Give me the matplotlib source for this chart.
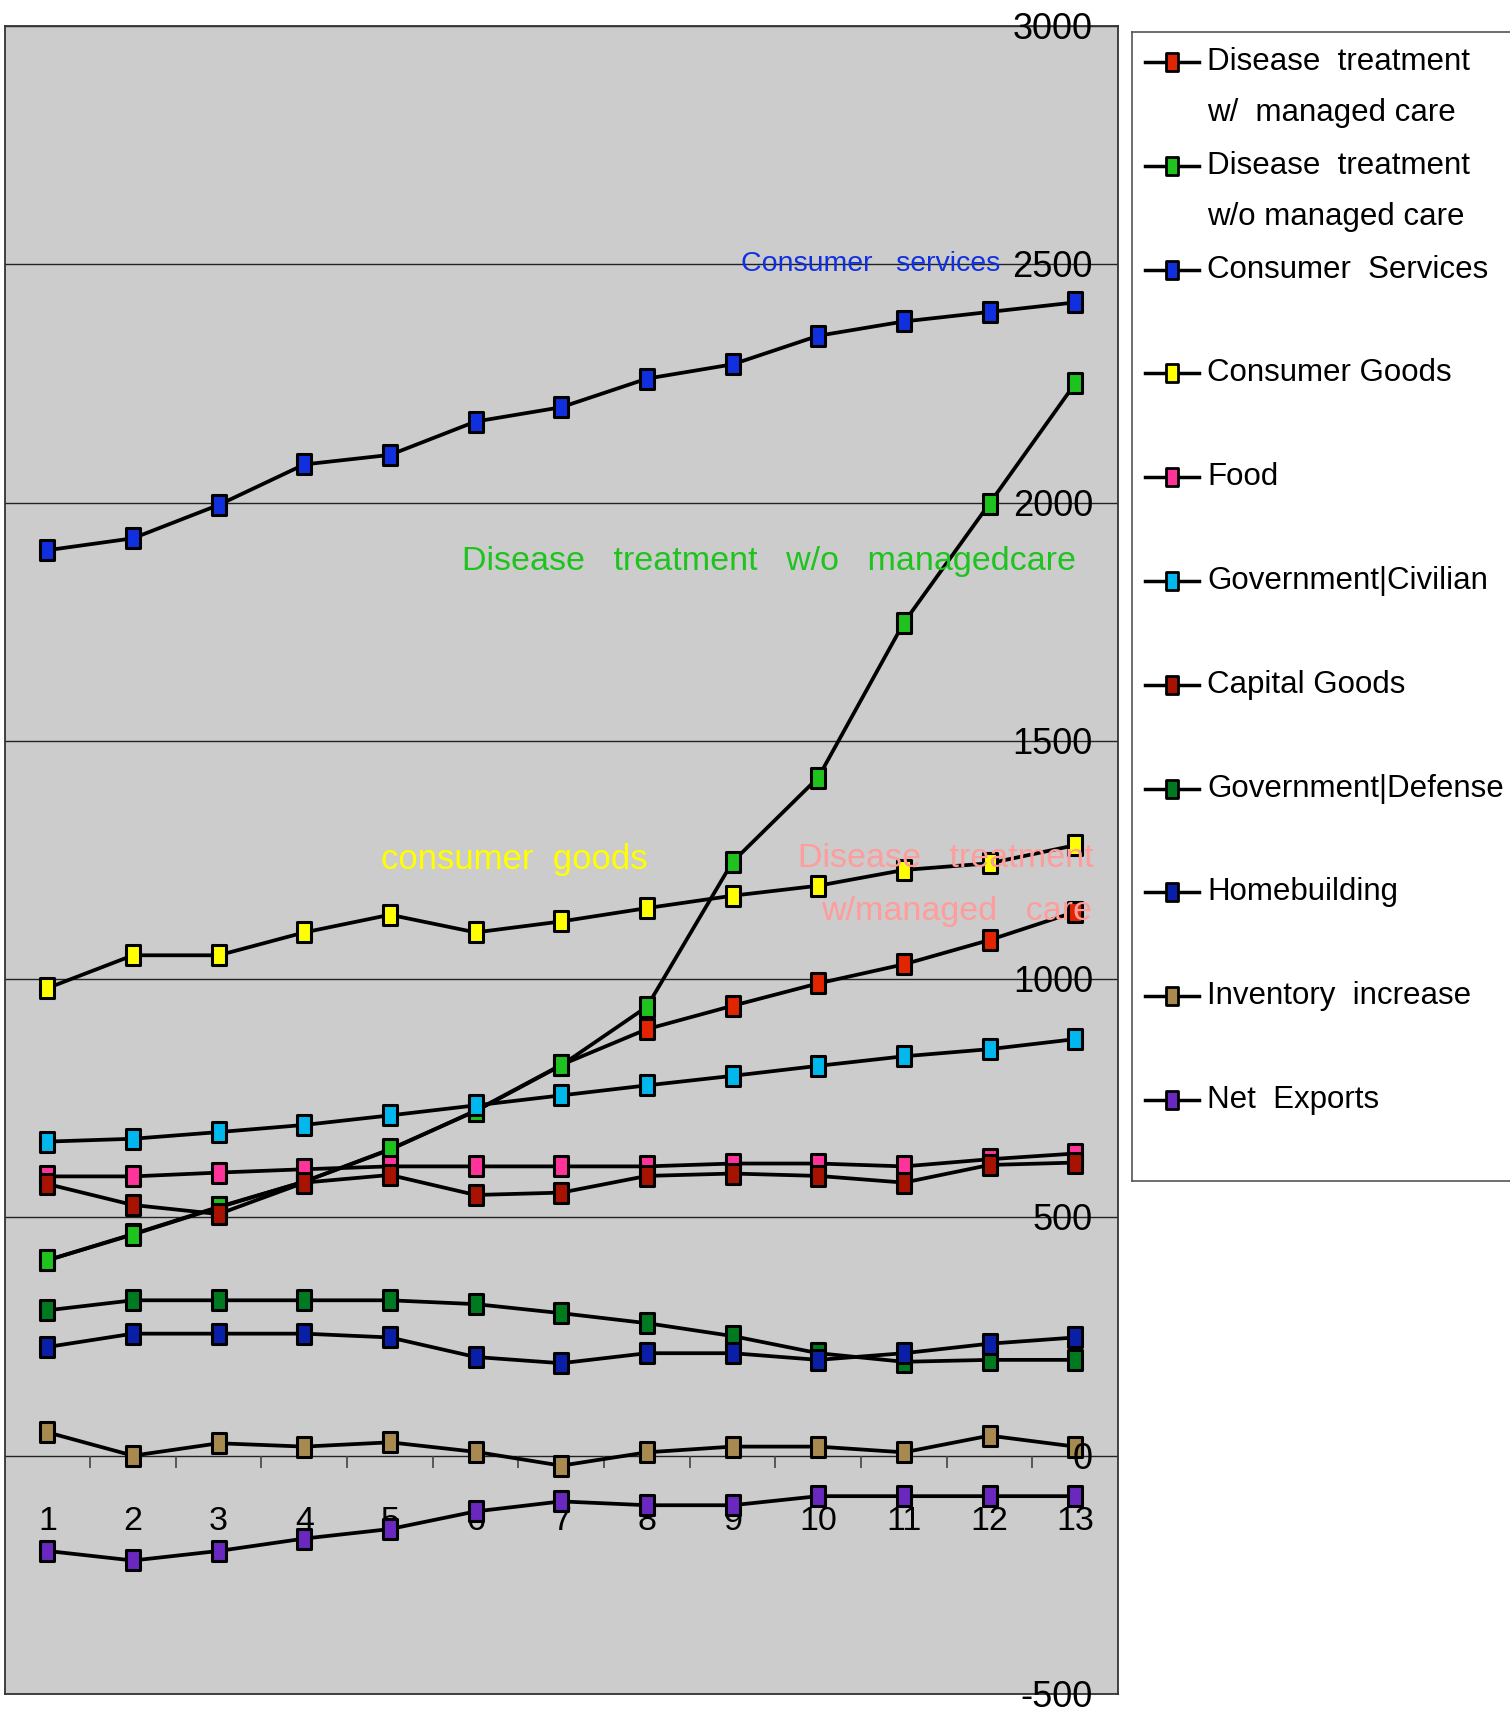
import numpy as np
import matplotlib.pyplot as plt
from matplotlib.path import Path
from matplotlib.transforms import blended_transform_factory, offset_copy

# data
categories = list(range(1, 14))
y_ticks = [-500, 0, 500, 1000, 1500, 2000, 2500, 3000]

dt_managed = [410, 465, 522, 575, 642, 724, 820, 895, 944, 991, 1031, 1082, 1141]
dt_without = [410, 464, 521, 575, 643, 723, 819, 942, 1246, 1423, 1748, 1998, 2250]
consumer_services = [1900, 1925, 1995, 2080, 2100, 2170, 2200, 2260, 2290, 2350, 2380, 2400, 2420]
consumer_goods = [981, 1050, 1050, 1098, 1135, 1098, 1121, 1149, 1175, 1196, 1229, 1243, 1281]
food = [586, 586, 594, 601, 607, 607, 607, 607, 613, 613, 607, 622, 634]
gov_civilian = [659, 665, 679, 694, 714, 735, 756, 777, 797, 818, 838, 853, 874]
capital_goods = [570, 526, 507, 573, 589, 547, 552, 587, 592, 587, 573, 610, 615]
gov_defense = [305, 326, 326, 326, 326, 318, 299, 278, 251, 215, 197, 201, 201]
homebuilding = [228, 256, 256, 256, 248, 207, 194, 215, 215, 201, 215, 235, 248]
inventory = [49, 0, 26, 19, 28, 8, -21, 7, 19, 19, 7, 42, 19]
net_exports = [-200, -220, -200, -174, -154, -117, -96, -104, -104, -85, -85, -85, -85]

series = [dt_managed, dt_without, consumer_services, consumer_goods, food, gov_civilian,
          capital_goods, gov_defense, homebuilding, inventory, net_exports]
labels = ["Disease  treatment\nw/  managed care", "Disease  treatment\nw/o managed care",
          "Consumer  Services", "Consumer Goods", "Food", "Government|Civilian",
          "Capital Goods", "Government|Defense", "Homebuilding", "Inventory  increase",
          "Net  Exports"]
colors = ["#e32400", "#1ec31e", "#1030e0", "#ffff00", "#ff3399", "#00b8ee",
          "#a81200", "#007a20", "#0a1fa8", "#a88a50", "#6a28c0"]

FONT = ["Liberation Sans", "DejaVu Sans"]

# tall rectangle marker like the Excel one
rect = Path([(-0.33, -0.5), (0.33, -0.5), (0.33, 0.5), (-0.33, 0.5), (-0.33, -0.5)],
            [Path.MOVETO, Path.LINETO, Path.LINETO, Path.LINETO, Path.CLOSEPOLY])

fig = plt.figure(figsize=(15.1, 17.22), dpi=100)
ax = fig.add_axes([0.003, 0.0163, 0.7374, 0.9686])
ax.set_facecolor("#cccccc")
ax.set_xlim(0.5, 13.5)
ax.set_ylim(-500, 3000)
ax.set_xticks([])
ax.set_yticks([])
for s in ax.spines.values():
    s.set_color("#333333")
    s.set_linewidth(1.3)

for v in y_ticks:
    ax.axhline(v, color="#222222", lw=1.0, zorder=1)
ax.vlines(np.arange(1.5, 13.5, 1.0), -25, 0, color="#444444", lw=1.2, zorder=1)

for vals, col in zip(series, colors):
    ax.plot(categories, vals, color="black", lw=2.7, marker=rect, markersize=14.5,
            markerfacecolor=col, markeredgecolor="black", markeredgewidth=2.2, zorder=3)

# axis labels drawn inside the plot like the original
tr = offset_copy(blended_transform_factory(ax.transAxes, ax.transData), fig=fig,
                 y=-3.5, units="dots")
for v in y_ticks:
    ax.text(0.9775, v, str(v), transform=tr, ha="right", va="center",
            fontsize=26, family=FONT, zorder=5)
for c in categories:
    ax.text(c, -139, str(c), ha="center", va="center", fontsize=24.5, family=FONT, zorder=2)

# annotations
ax.text(12.12, 2500, "Consumer   services", color="#1030e0", ha="right", va="center",
        fontsize=20.5, family=FONT, zorder=4)
ax.text(9.43, 1877, "Disease   treatment   w/o   managedcare", color="#1ec31e",
        ha="center", va="center", fontsize=24.5, family=FONT, zorder=4)
ax.text(6.45, 1252, "consumer  goods", color="#ffff00", ha="center", va="center",
        fontsize=25, family=FONT, zorder=4)
ax.text(13.22, 1253, "Disease   treatment", color="#ff9c9c", ha="right", va="center",
        fontsize=24.5, family=FONT, zorder=4)
ax.text(13.2, 1141, "w/managed   care", color="#ff9c9c", ha="right", va="center",
        fontsize=24.5, family=FONT, zorder=4)

# legend box, laid out in figure pixels
lax = fig.add_axes([1132 / 1510, (1722 - 1181) / 1722, 0.3, (1181 - 32) / 1722])
lax.set_xlim(1132, 1132 + 0.3 * 1510)
lax.set_ylim(1181, 32)
lax.set_xticks([])
lax.set_yticks([])
for s in lax.spines.values():
    s.set_color("#555555")
    s.set_linewidth(1.2)

for i, (lab, col) in enumerate(zip(labels, colors)):
    y = 62 + i * 103.8
    lax.plot([1145, 1199], [y, y], color="black", lw=2.5)
    lax.plot([1172], [y], marker=rect, markersize=13, markerfacecolor=col,
             markeredgecolor="black", markeredgewidth=2.0)
    for k, line in enumerate(lab.split("\n")):
        lax.text(1207, y + k * 51, line, ha="left", va="center", fontsize=22.5, family=FONT)

fig.savefig("out.png", dpi=100)
